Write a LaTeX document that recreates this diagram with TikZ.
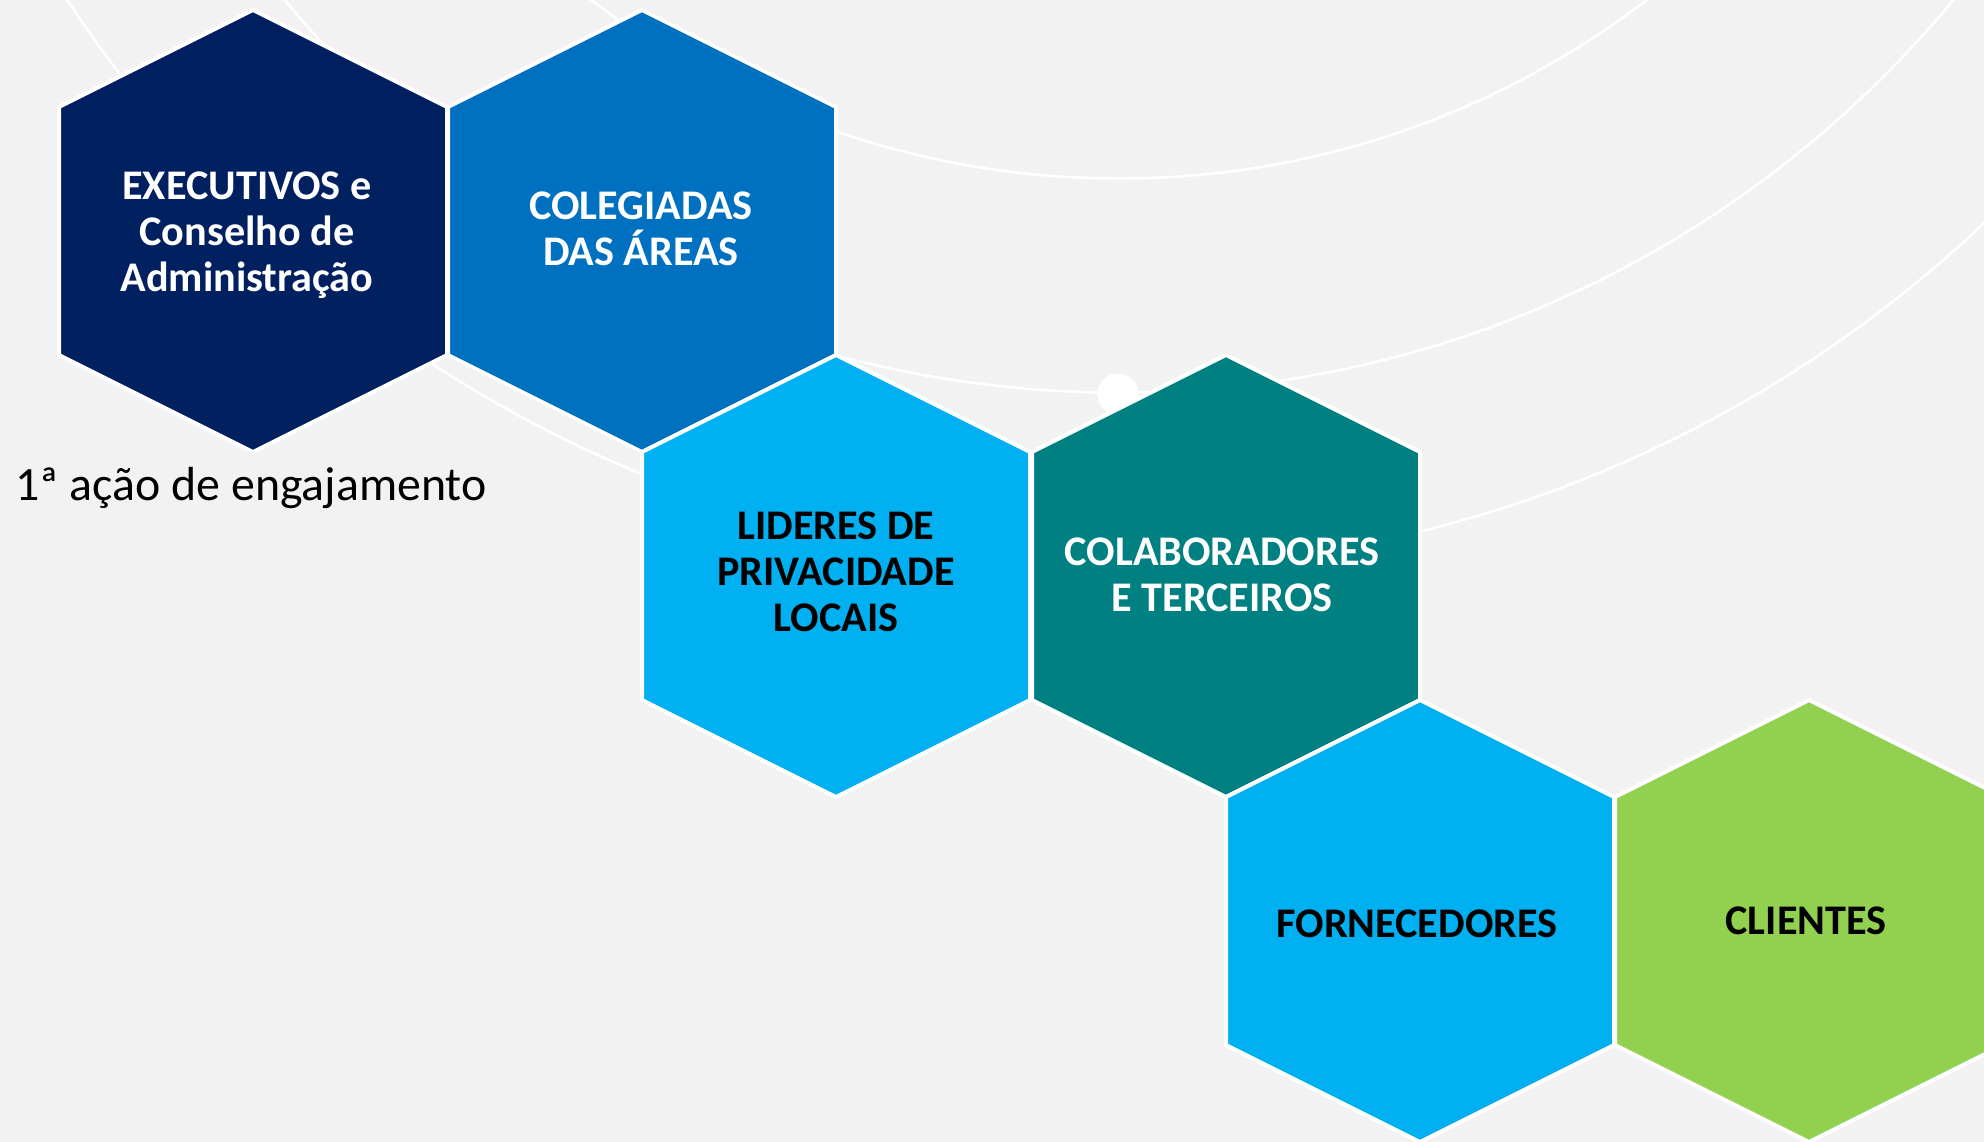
\documentclass[tikz,border=0pt]{standalone}
\usepackage{fontspec}
\setmainfont{Carlito}

\definecolor{pagebg}{HTML}{F2F2F2}
\definecolor{navy}{HTML}{002060}
\definecolor{midblue}{HTML}{0070C0}
\definecolor{skyblue}{HTML}{00B0F0}
\definecolor{tealgreen}{HTML}{008080}
\definecolor{leafgreen}{HTML}{92D050}

\begin{document}
\begin{tikzpicture}[x=0.01cm, y=-0.01cm,
    hexcell/.style={draw=white, line width=0.04cm, line join=miter},
    ring/.style={draw=white, line width=0.025cm},
    hexlabel/.style={align=center, font=\bfseries\fontsize{12}{13}\selectfont}]
    \useasboundingbox (0,0) rectangle (1984,1142);
    \clip (0,0) rectangle (1984,1142);
    \fill[pagebg] (0,0) rectangle (1984,1142);

    % rings behind the cells
    \coordinate (hub) at (1119,-690);
    \draw[ring] (hub) circle[radius=8.68cm];
    \draw[ring] (hub) circle[radius=10.82cm];
    \draw[ring] (hub) circle[radius=12.57cm];
    \node[circle, fill=white, minimum size=0.41cm, inner sep=0pt] (knot) at (1118,394) {};

    % cells
    \foreach \cx/\cy/\col in {253/231/navy, 642/231/midblue, 836/576/skyblue,
                              1226/576/tealgreen, 1420/921/skyblue, 1809/921/leafgreen}
        \path[hexcell, fill=\col] (\cx,\cy) ++(-194,-124) -- ++(194,-97) -- ++(194,97)
            -- ++(0,248) -- ++(-194,97) -- ++(-194,-97) -- cycle;

    \node[hexlabel, text=white] (exec) at (247,235) {EXECUTIVOS e\\Conselho de\\Administração};
    \node[hexlabel, text=white] (boards) at (641,229) {COLEGIADAS\\DAS ÁREAS};
    \node[hexlabel] (leaders) at (836,572) {LIDERES DE\\PRIVACIDADE\\LOCAIS};
    \node[hexlabel, text=white] (staff) at (1222,575) {COLABORADORES\\E TERCEIROS};
    \node[hexlabel] (suppliers) at (1417,924) {FORNECEDORES};
    \node[hexlabel] (clients) at (1806,921) {CLIENTES};

    \node[anchor=base west, inner sep=0pt, font=\fontsize{13.6}{16}\selectfont] (firststep) at (15,500) {1ª ação de engajamento};
\end{tikzpicture}
\end{document}
